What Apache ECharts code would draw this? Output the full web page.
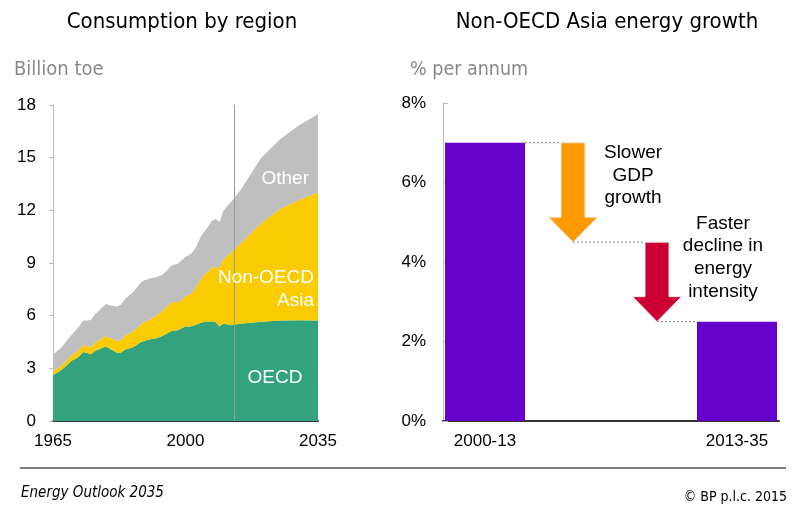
<!DOCTYPE html>
<html><head><meta charset="utf-8">
<script src="https://cdn.jsdelivr.net/npm/echarts@6/dist/echarts.min.js"></script>
<style>html,body{margin:0;padding:0;background:#fff}#c{width:800px;height:514px}</style>
</head><body><div id="c"></div>
<script>
// ---- Left chart: consumption by region (billion toe) ----
const years = [1965,1966,1967,1968,1969,1970,1971,1972,1973,1974,
  1975,1976,1977,1978,1979,1980,1981,1982,1983,1984,
  1985,1986,1987,1988,1989,1990,1991,1992,1993,1994,
  1995,1996,1997,1998,1999,2000,2001,2002,2003,2004,
  2005,2006,2007,2008,2009,2010,2011,2012,2013,
  2015,2020,2025,2030,2035];
const oecd = [2.62,2.75,2.87,3.05,3.25,3.45,3.55,3.72,3.93,3.87,
  3.80,3.98,4.07,4.17,4.25,4.12,4.00,3.88,3.90,4.07,
  4.13,4.18,4.32,4.47,4.56,4.62,4.67,4.70,4.77,4.86,
  4.97,5.10,5.16,5.17,5.28,5.40,5.37,5.42,5.50,5.60,
  5.64,5.64,5.68,5.62,5.38,5.56,5.50,5.45,5.50,
  5.55,5.66,5.72,5.74,5.72];
const nonOecdAsia = [0.22,0.24,0.25,0.26,0.28,0.31,0.33,0.36,0.39,0.40,
  0.42,0.45,0.49,0.54,0.58,0.61,0.64,0.68,0.72,0.78,
  0.84,0.89,0.94,1.00,1.05,1.10,1.17,1.25,1.34,1.42,
  1.52,1.60,1.63,1.60,1.62,1.72,1.82,1.93,2.20,2.45,
  2.70,2.88,3.05,3.15,3.35,3.65,3.90,4.10,4.30,
  4.65,5.60,6.35,6.85,7.30];
const other = [0.94,0.99,1.02,1.09,1.15,1.17,1.27,1.34,1.40,1.45,
  1.53,1.62,1.69,1.77,1.83,1.87,1.91,1.96,2.02,2.10,
  2.16,2.23,2.29,2.37,2.39,2.36,2.31,2.23,2.14,2.07,
  2.06,2.10,2.13,2.19,2.25,2.24,2.26,2.30,2.30,2.45,
  2.46,2.56,2.67,2.73,2.60,2.77,2.85,2.93,2.92,
  3.10,3.74,3.98,4.26,4.45];
const xTickYears = [1965, 2000, 2035];
const projectionStart = 2013;

// ---- Right chart: Non-OECD Asia energy growth (% p.a.) ----
const growthCategories = ['2000-13', 'Slower GDP growth', 'Faster decline in energy intensity', '2013-35'];
const growthBars = [7.0, '-', '-', 2.5];
const growthSteps = [[1, 7.0, 4.5], [2, 4.5, 2.5]];
const shownGrowthLabels = ['2000-13', '2013-35'];

const NORMAL = "'Liberation Sans', Arial, sans-serif";
const NARROW = "'DejaVu Sans Condensed', 'Liberation Sans Narrow', sans-serif";
const arrowColors = ['#FF9900', '#CC0033'];
const BAR_W = 80;

// value first, year second, so the library stacks on the value dimension
const pairs = arr => years.map((y, i) => [arr[i], y]);

const chart = echarts.init(document.getElementById('c'), null, {renderer: 'canvas'});

function txt(text, x, y, opts) {
  return {
    type: 'text', silent: true, z: 100,
    style: Object.assign({text: text, x: x, y: y, fill: '#000', font: '17px ' + NORMAL,
      textAlign: 'left', textVerticalAlign: 'middle'}, opts || {})
  };
}

function areaSeries(name, arr, color) {
  return {
    name: name, type: 'line', stack: 'total', xAxisIndex: 0, yAxisIndex: 0,
    data: pairs(arr), encode: {x: 1, y: 0}, symbol: 'none', lineStyle: {width: 0},
    itemStyle: {color: color}, areaStyle: {color: color, opacity: 1}
  };
}

const otherSeries = areaSeries('Other', other, '#BFBFBF');
otherSeries.markLine = {
  silent: true, symbol: 'none', label: {show: false},
  lineStyle: {color: '#999', width: 1, type: 'solid'},
  data: [{xAxis: projectionStart}]
};

chart.setOption({
  animation: false,
  backgroundColor: '#fff',
  grid: [
    {left: 53, top: 105, width: 265, height: 316},
    {left: 443, top: 103, width: 336, height: 318}
  ],
  xAxis: [
    {
      gridIndex: 0, type: 'value', min: 1965, max: 2035, interval: 5,
      axisLine: {onZero: false, lineStyle: {color: '#333', width: 2}},
      axisTick: {show: false}, splitLine: {show: false},
      axisLabel: {
        color: '#000', fontSize: 17, fontFamily: NORMAL, margin: 12,
        formatter: v => xTickYears.includes(v) ? String(v) : ''
      }
    },
    {
      gridIndex: 1, type: 'category', data: growthCategories,
      axisLine: {lineStyle: {color: '#333', width: 2}},
      axisTick: {show: false},
      axisLabel: {
        color: '#000', fontSize: 17, fontFamily: NORMAL, margin: 12, interval: 0,
        formatter: v => shownGrowthLabels.includes(v) ? v : ''
      }
    }
  ],
  yAxis: [
    {
      gridIndex: 0, type: 'value', min: 0, max: 18, interval: 3,
      axisLine: {show: true, onZero: false, lineStyle: {color: '#bbb'}},
      axisTick: {show: true, length: 4, lineStyle: {color: '#bbb'}},
      splitLine: {show: false},
      axisLabel: {color: '#000', fontSize: 17, fontFamily: NORMAL, margin: 17}
    },
    {
      gridIndex: 1, type: 'value', min: 0, max: 8, interval: 2,
      axisLine: {show: true, onZero: false, lineStyle: {color: '#bbb'}},
      axisTick: {show: true, inside: true, length: 5, lineStyle: {color: '#bbb'}},
      splitLine: {show: false},
      axisLabel: {color: '#000', fontSize: 17, fontFamily: NORMAL, margin: 17, formatter: '{value}%'}
    }
  ],
  series: [
    areaSeries('OECD', oecd, '#33A37D'),
    areaSeries('Non-OECD Asia', nonOecdAsia, '#FACB00'),
    otherSeries,
    {
      name: 'Growth', type: 'bar', xAxisIndex: 1, yAxisIndex: 1,
      data: growthBars, barWidth: BAR_W, itemStyle: {color: '#6600CC'}
    },
    {
      name: 'Steps', type: 'custom', xAxisIndex: 1, yAxisIndex: 1,
      data: growthSteps, encode: {x: 0, y: [1, 2]}, z: 3,
      renderItem: function (params, api) {
        const c = api.value(0), v0 = api.value(1), v1 = api.value(2);
        const top = api.coord([c, v0]);
        const tip = api.coord([c, v1]);
        const band = api.size([1, 0])[0];
        const cx = top[0] + 4;
        const sw = 12, hw = 24.5, hh = 25;
        const yT = top[1], yP = tip[1], yH = yP - hh;
        const idx = params.dataIndex;
        const children = [{
          type: 'polygon',
          shape: {points: [[cx - sw, yT], [cx + sw, yT], [cx + sw, yH], [cx + hw, yH], [cx, yP], [cx - hw, yH], [cx - sw, yH]]},
          style: {fill: arrowColors[idx % arrowColors.length], stroke: '#e8e8e8', lineWidth: 1}
        }];
        const prevCenter = top[0] - band;
        const startX = idx === 0 ? prevCenter + BAR_W / 2 : prevCenter + 4;
        children.push({
          type: 'line', shape: {x1: startX, y1: yT, x2: cx - sw, y2: yT},
          style: {stroke: '#888', lineWidth: 1, lineDash: [2, 2]}
        });
        if (idx === growthSteps.length - 1) {
          children.push({
            type: 'line', shape: {x1: cx, y1: yP, x2: top[0] + band - BAR_W / 2, y2: yP},
            style: {stroke: '#888', lineWidth: 1, lineDash: [2, 2]}
          });
        }
        return {type: 'group', children: children};
      }
    }
  ],
  graphic: [
    txt('Consumption by region', 182, 22, {font: '22px ' + NARROW, textAlign: 'center'}),
    txt('Non-OECD Asia energy growth', 607, 22, {font: '22px ' + NARROW, textAlign: 'center'}),
    txt('Billion toe', 14, 70, {font: '20px ' + NARROW, fill: '#888'}),
    txt('% per annum', 410, 70, {font: '19.5px ' + NARROW, fill: '#888'}),
    txt('Other', 309, 179, {font: '19px ' + NORMAL, fill: '#fff', textAlign: 'right'}),
    txt('Non-OECD', 314, 278, {font: '19px ' + NORMAL, fill: '#fff', textAlign: 'right'}),
    txt('Asia', 314, 301, {font: '19px ' + NORMAL, fill: '#fff', textAlign: 'right'}),
    txt('OECD', 275, 378, {font: '19px ' + NORMAL, fill: '#fff', textAlign: 'center'}),
    txt('Slower\nGDP\ngrowth', 633, 142, {font: '19px ' + NORMAL, textAlign: 'center', textVerticalAlign: 'top', lineHeight: 22.5}),
    txt('Faster\ndecline in\nenergy\nintensity', 723, 212, {font: '19px ' + NORMAL, textAlign: 'center', textVerticalAlign: 'top', lineHeight: 22.7}),
    {type: 'line', silent: true, z: 100, shape: {x1: 20, y1: 468, x2: 786, y2: 468}, style: {stroke: '#000', lineWidth: 1}},
    txt('Energy Outlook 2035', 21, 493, {font: 'italic 15px ' + NARROW}),
    txt('\u00A9 BP p.l.c. 2015', 787, 497, {font: '14px ' + NARROW, textAlign: 'right'})
  ]
});
</script>
</body></html>
